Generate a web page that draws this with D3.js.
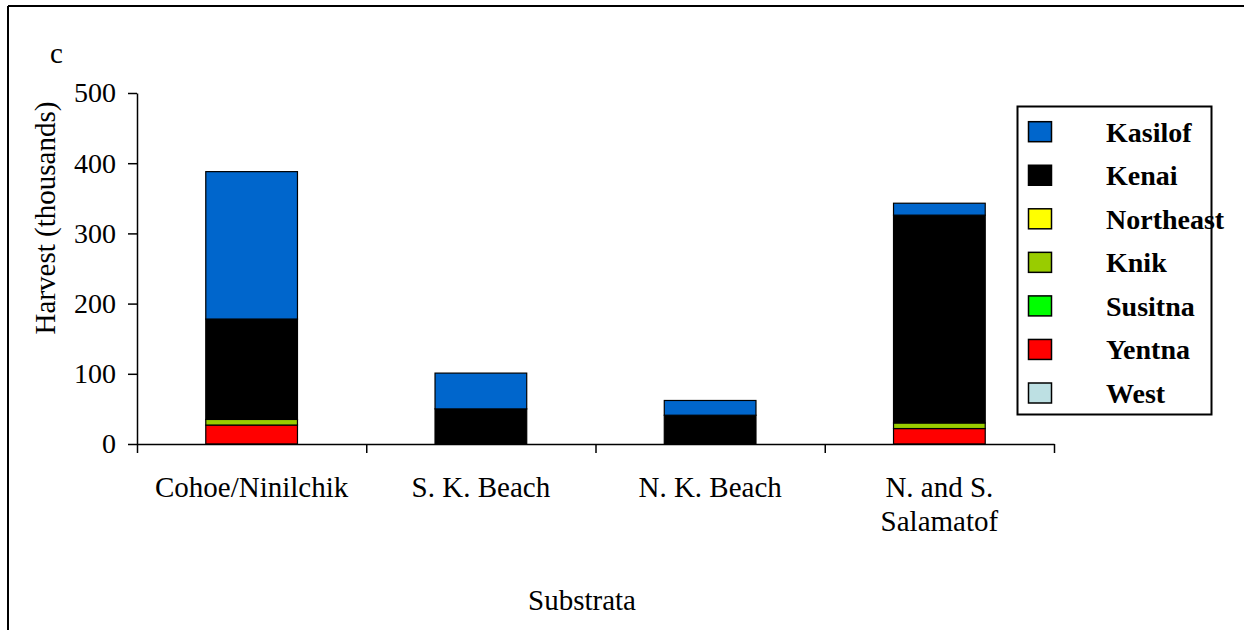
<!DOCTYPE html>
<html>
<head>
<meta charset="utf-8">
<script src="https://cdn.jsdelivr.net/npm/d3@7"></script>
<style>
  html, body { margin: 0; padding: 0; background: #fff; }
  svg { display: block; }
  text { font-family: "Liberation Serif", "Times New Roman", serif; fill: #000; }
</style>
</head>
<body>
<svg id="chart" width="1244" height="630"></svg>
<script>
// ---- data ----
const categories = ["Cohoe/Ninilchik", "S. K. Beach", "N. K. Beach", "N. and S.\nSalamatof"];
const seriesNames = ["Kasilof", "Kenai", "Northeast", "Knik", "Susitna", "Yentna", "West"];
const seriesColors = ["#0066CC", "#000000", "#FFFF00", "#99CC00", "#00FF00", "#FF0000", "#BDE0E3"];
const kasilof   = [210, 51, 21, 17];
const kenai     = [143, 50, 41, 296];
const northeast = [0, 0, 0, 0];
const knik      = [8, 0, 0, 8];
const susitna   = [0, 0, 0, 0];
const yentna    = [27, 0, 0, 22];
const west      = [0, 0, 0, 0];
const yTicks = [0, 100, 200, 300, 400, 500];
const panelLabel = "c";
const yTitle = "Harvest (thousands)";
const xTitle = "Substrata";

const seriesValues = { Kasilof: kasilof, Kenai: kenai, Northeast: northeast, Knik: knik, Susitna: susitna, Yentna: yentna, West: west };
const colorOf = d3.scaleOrdinal().domain(seriesNames).range(seriesColors);

const svg = d3.select("#chart");

// outer frame (top and left edges visible)
svg.append("line").attr("x1", 8).attr("x2", 1244).attr("y1", 6).attr("y2", 6).attr("stroke", "#000").attr("stroke-width", 2);
svg.append("line").attr("x1", 8).attr("x2", 8).attr("y1", 6).attr("y2", 630).attr("stroke", "#000").attr("stroke-width", 2);

const plot = { left: 137, right: 1054, top: 93, bottom: 444 };

const x = d3.scaleBand().domain(categories).range([plot.left, plot.right]).paddingInner(0).paddingOuter(0);
const y = d3.scaleLinear().domain([0, 500]).range([plot.bottom, plot.top]);

// stacked data: bottom-up order is reverse of legend
const table = categories.map((c, i) => {
  const row = { cat: c };
  seriesNames.forEach(s => row[s] = seriesValues[s][i]);
  return row;
});
const stackOrder = seriesNames.slice().reverse();
const stacked = d3.stack().keys(stackOrder)(table);

const barW = x.bandwidth() * 0.4;
const gBars = svg.append("g");
stacked.forEach(layer => {
  gBars.selectAll(null).data(layer.filter(d => d[1] - d[0] > 0)).enter().append("rect")
    .attr("x", d => x(d.data.cat) + (x.bandwidth() - barW) / 2)
    .attr("width", barW)
    .attr("y", d => y(d[1]))
    .attr("height", d => y(d[0]) - y(d[1]))
    .attr("fill", colorOf(layer.key))
    .attr("stroke", "#000")
    .attr("stroke-width", 1.2);
});

// y axis
const yAxis = d3.axisLeft(y).tickValues(yTicks).tickSize(9).tickSizeOuter(0).tickPadding(12);
const gy = svg.append("g").attr("transform", `translate(${plot.left},0)`).call(yAxis);
gy.select(".domain").attr("stroke", "#000").attr("stroke-width", 1.5);
gy.selectAll(".tick line").attr("stroke", "#000").attr("stroke-width", 1.5);
gy.selectAll(".tick text").attr("font-size", 28).attr("font-family", "Liberation Serif").attr("fill", "#000");

// x axis: ticks at category boundaries
const xb = d3.scaleLinear().domain([0, categories.length]).range([plot.left, plot.right]);
const xAxis = d3.axisBottom(xb).ticks(categories.length).tickValues(d3.range(0, categories.length + 1)).tickSize(9).tickSizeOuter(0).tickFormat("");
const gx = svg.append("g").attr("transform", `translate(0,${plot.bottom})`).call(xAxis);
gx.select(".domain").attr("stroke", "#000").attr("stroke-width", 1.5);
gx.selectAll(".tick line").attr("stroke", "#000").attr("stroke-width", 1.5);

// category labels
categories.forEach(c => {
  const lines = c.split("\n");
  const t = svg.append("text")
    .attr("x", x(c) + x.bandwidth() / 2)
    .attr("y", 497)
    .attr("text-anchor", "middle")
    .attr("font-size", 29);
  lines.forEach((ln, i) => {
    t.append("tspan").attr("x", x(c) + x.bandwidth() / 2).attr("dy", i === 0 ? 0 : 34).text(ln);
  });
});

// titles
svg.append("text").attr("x", 582).attr("y", 610).attr("text-anchor", "middle").attr("font-size", 29).text(xTitle);
svg.append("text").attr("transform", "translate(55,218) rotate(-90)").attr("text-anchor", "middle").attr("font-size", 29).text(yTitle);
svg.append("text").attr("x", 50).attr("y", 63).attr("font-size", 29).text(panelLabel);

// legend
const lg = svg.append("g");
lg.append("rect").attr("x", 1017.5).attr("y", 106.5).attr("width", 194).attr("height", 308)
  .attr("fill", "#fff").attr("stroke", "#000").attr("stroke-width", 2);
const ly = d3.scalePoint().domain(seriesNames).range([131.7, 393]);
seriesNames.forEach(s => {
  lg.append("rect").attr("x", 1028.5).attr("y", ly(s) - 10).attr("width", 23).attr("height", 20)
    .attr("fill", colorOf(s)).attr("stroke", "#000").attr("stroke-width", 1.5);
  lg.append("text").attr("x", 1106).attr("y", ly(s) + 10).attr("font-size", 28).attr("font-weight", "bold").text(s);
});
</script>
</body>
</html>
